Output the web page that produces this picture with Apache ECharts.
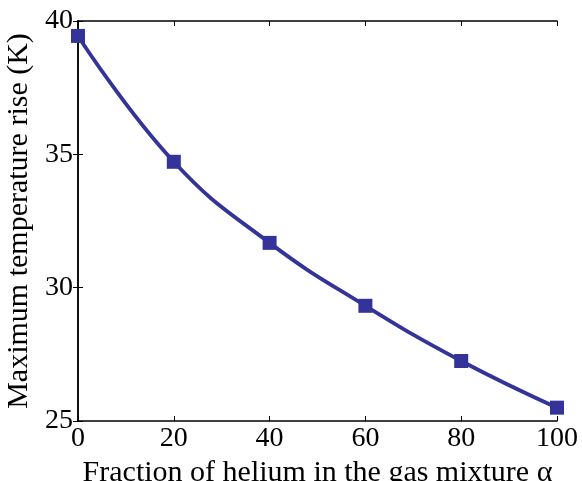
<!DOCTYPE html>
<html>
<head>
<meta charset="utf-8">
<script src="https://cdn.jsdelivr.net/npm/echarts@6/dist/echarts.min.js"></script>
<style>
  html, body { margin: 0; padding: 0; background: #fff; }
  #chart { width: 582px; height: 481px; }
</style>
</head>
<body>
<div id="chart"></div>
<script>
var heliumFraction = [0, 20, 40, 60, 80, 100];
var maxTempRise = [39.44, 34.72, 31.68, 29.32, 27.25, 25.5];

var font = "Liberation Serif";
var axisLine = { show: true, lineStyle: { color: "#000", width: 1.5 } };
var tickIn = { show: true, inside: true, length: 5, lineStyle: { color: "#000", width: 1 } };

var chart = echarts.init(document.getElementById("chart"));
var option = {
  animation: false,
  grid: { left: 78, top: 21, right: 25, bottom: 60, outerBoundsMode: "none", containLabel: false },
  xAxis: [
    {
      type: "value",
      min: 0,
      max: 100,
      interval: 20,
      name: "Fraction of helium in the gas mixture \u03b1",
      nameLocation: "middle",
      nameGap: 37,
      nameTextStyle: { fontFamily: font, fontSize: 30, color: "#000" },
      axisLine: axisLine,
      axisTick: tickIn,
      splitLine: { show: false },
      axisLabel: { fontFamily: font, fontSize: 28, color: "#000", margin: 4 }
    },
    {
      type: "value",
      position: "top",
      min: 0,
      max: 100,
      interval: 20,
      axisLine: axisLine,
      axisTick: tickIn,
      splitLine: { show: false },
      axisLabel: { show: false }
    }
  ],
  yAxis: [
    {
      type: "value",
      min: 25,
      max: 40,
      interval: 5,
      name: "Maximum temperature rise (K)",
      nameLocation: "middle",
      nameGap: 42,
      nameTextStyle: { fontFamily: font, fontSize: 30, color: "#000" },
      axisLine: axisLine,
      axisTick: tickIn,
      splitLine: { show: false },
      axisLabel: { fontFamily: font, fontSize: 28, color: "#000", margin: 5 }
    },
    {
      type: "value",
      position: "right",
      min: 25,
      max: 40,
      interval: 5,
      axisLine: axisLine,
      axisTick: tickIn,
      splitLine: { show: false },
      axisLabel: { show: false }
    }
  ],
  series: [
    {
      type: "line",
      data: heliumFraction.map(function (x, i) { return [x, maxTempRise[i]]; }),
      smooth: 0.45,
      symbol: "rect",
      symbolSize: 14,
      lineStyle: { color: "#333399", width: 3.8 },
      itemStyle: { color: "#333399" }
    }
  ]
};
chart.setOption(option);
</script>
</body>
</html>
